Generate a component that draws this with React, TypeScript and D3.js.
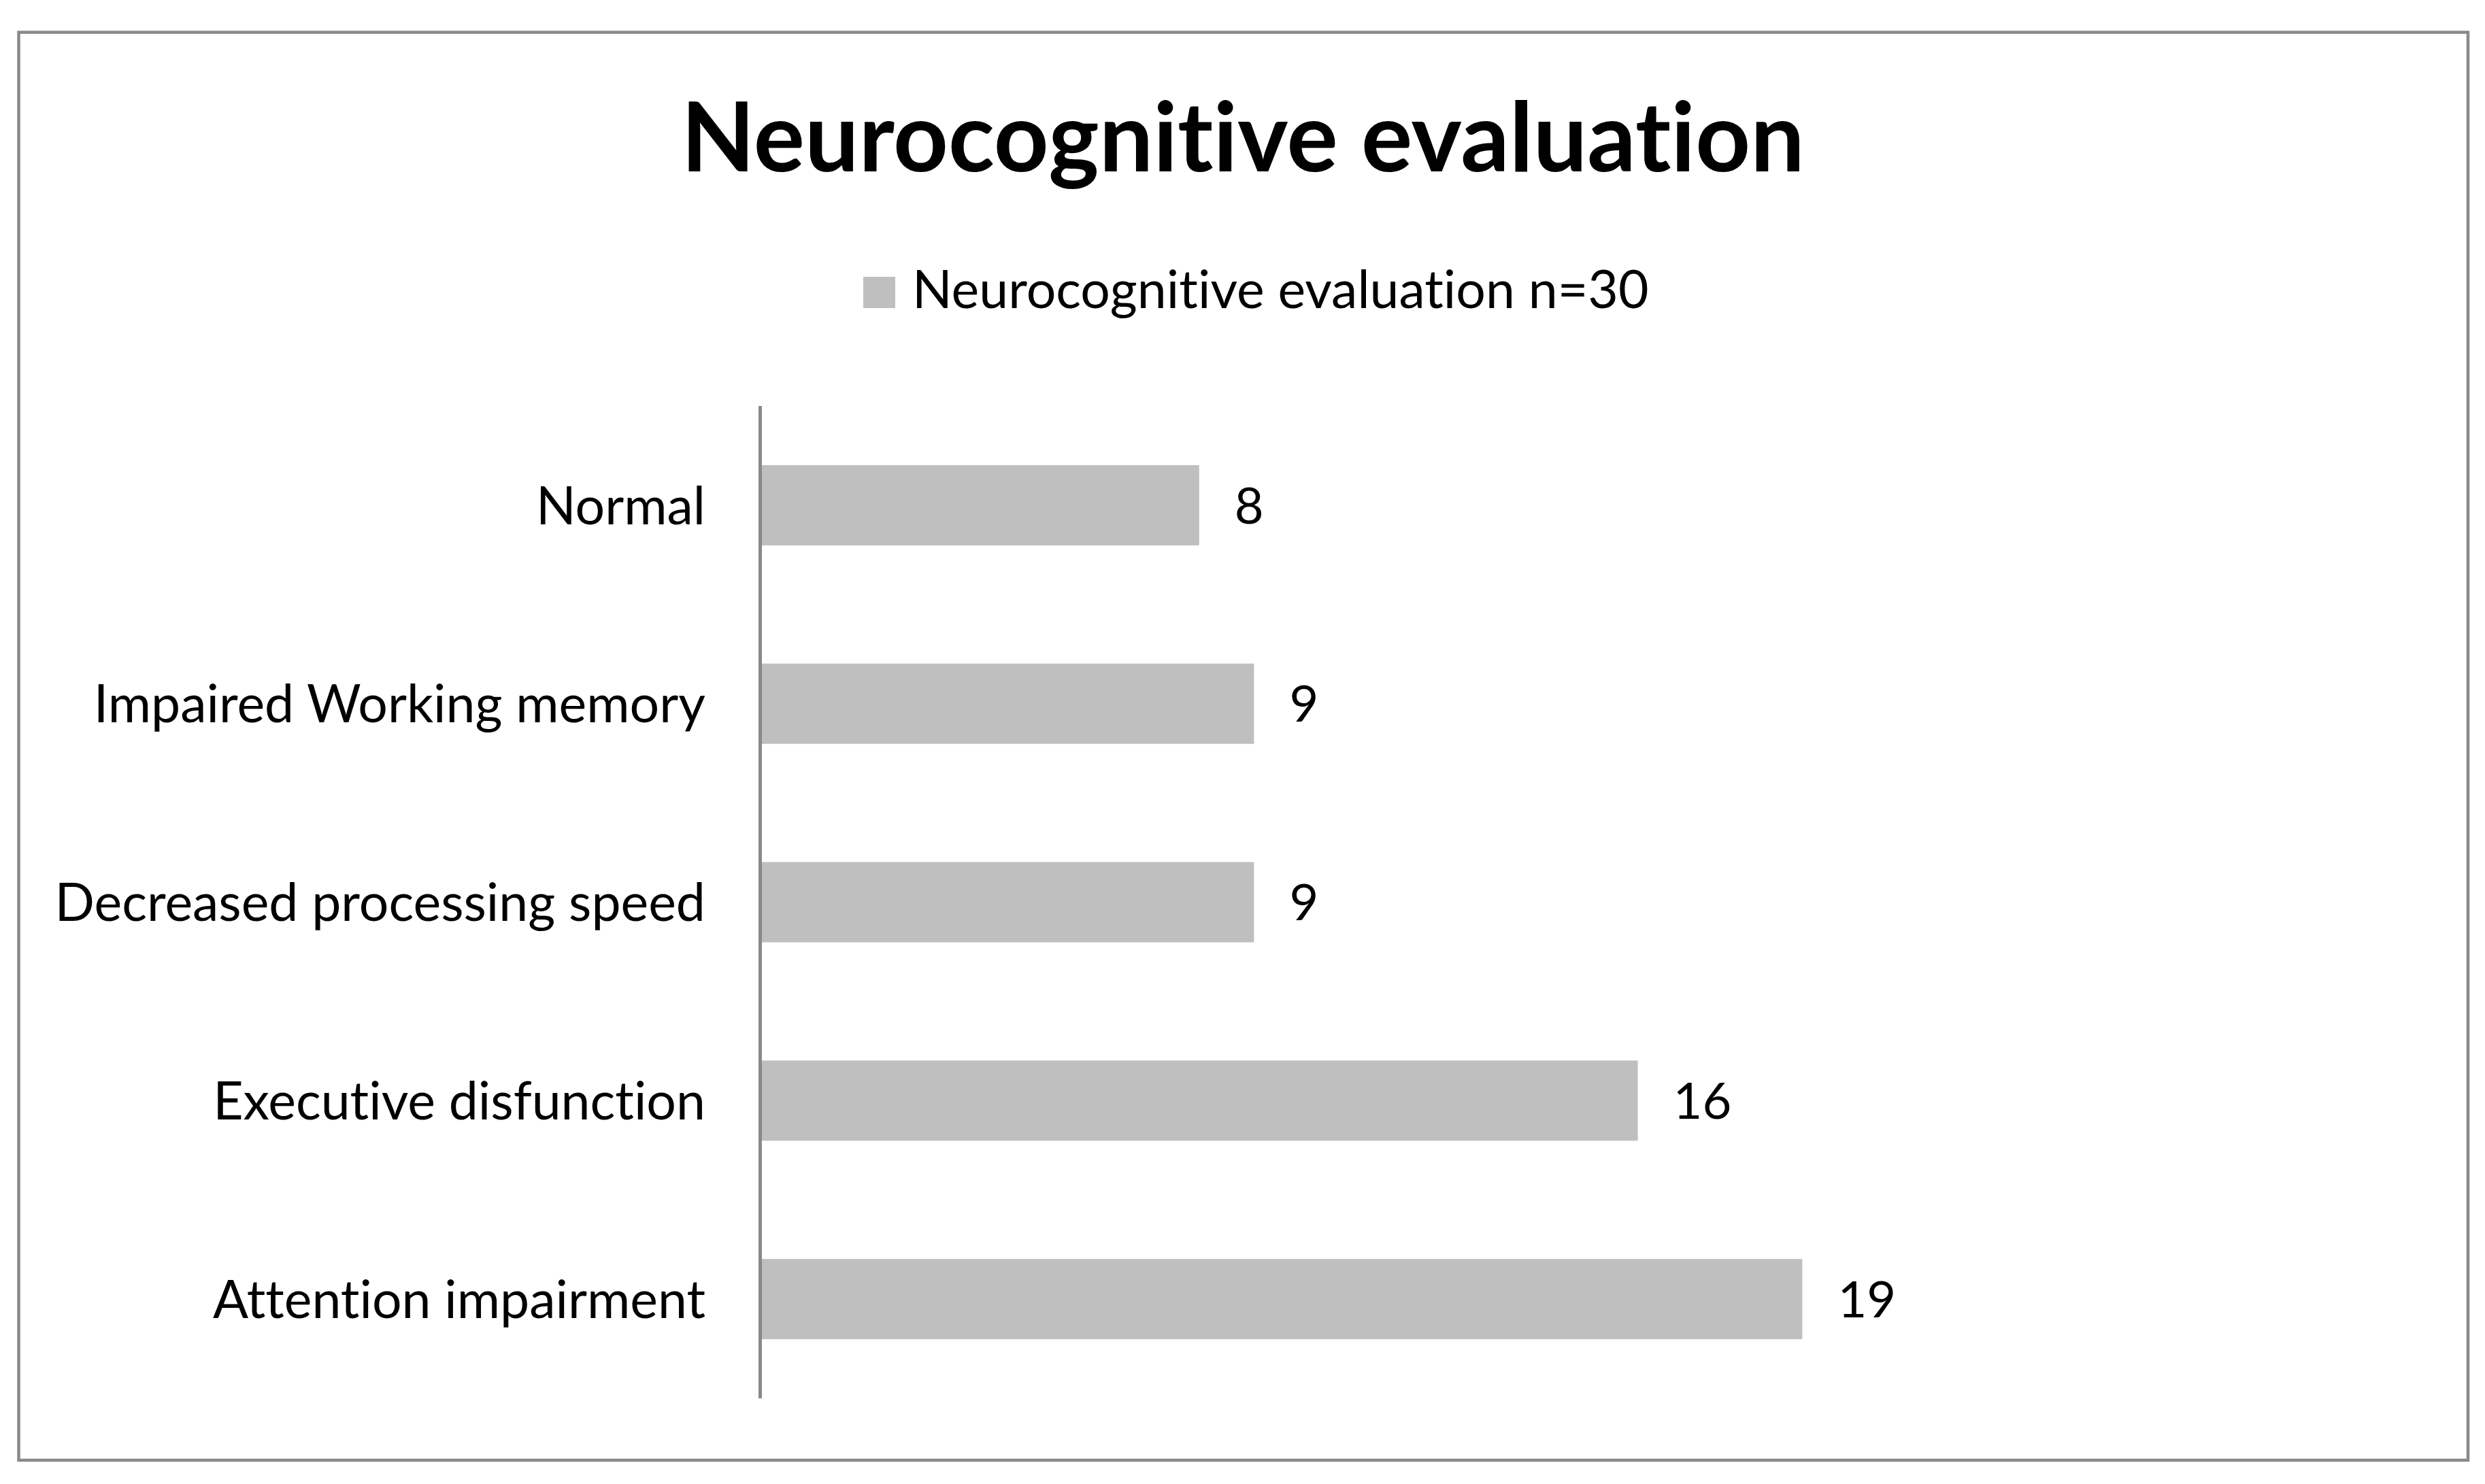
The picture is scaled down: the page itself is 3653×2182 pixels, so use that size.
import React from "react";
import * as d3 from "d3";

const categories = [
  "Normal",
  "Impaired Working memory",
  "Decreased processing speed",
  "Executive disfunction",
  "Attention impairment",
];
const values = [8, 9, 9, 16, 19];
const title = "Neurocognitive evaluation";
const seriesName = "Neurocognitive evaluation n=30";
const xDomainMax = 20;

const W = 3653;
const H = 2182;
const FONT = "Lato, 'Open Sans', sans-serif";
const noLig = { fontVariantLigatures: "none" as const, fontFeatureSettings: "'liga' 0, 'clig' 0" };

export default function App() {
  const x = d3.scaleLinear().domain([0, xDomainMax]).range([1118, 2730]);
  const y = d3
    .scaleBand<string>()
    .domain(categories)
    .range([597, 2056])
    .paddingInner(0.5956)
    .paddingOuter(0.5956 / 2);

  return (
    <svg
      width={W}
      height={H}
      viewBox={`0 0 ${W} ${H}`}
      style={{ position: "absolute", left: 0, top: 0, background: "#fff" }}
    >
      <rect x={0} y={0} width={W} height={H} fill="#fff" />
      <rect
        x={27.5}
        y={47.5}
        width={3628 - 27.5}
        height={2147 - 47.5}
        fill="#fff"
        stroke="#898989"
        strokeWidth={4.5}
      />
      <text
        x={1827}
        y={252}
        textAnchor="middle"
        fontFamily={FONT}
        fontWeight={700}
        fontSize={141}
        fill="#000"
        style={noLig}
      >
        {title}
      </text>
      <g>
        <rect x={1269} y={407} width={47} height={46} fill="#BFBFBF" />
        <text x={1341} y={453} fontFamily={FONT} fontSize={77} fill="#000" style={noLig}>
          {seriesName}
        </text>
      </g>
      <g>
        {categories.map((c, i) => (
          <g key={c}>
            <rect
              x={x(0)}
              y={y(c)}
              width={x(values[i]) - x(0)}
              height={y.bandwidth()}
              fill="#BFBFBF"
            />
            <text
              x={x(values[i]) + 52}
              y={(y(c) as number) + y.bandwidth() / 2}
              dy="0.36em"
              fontFamily={FONT}
              fontSize={74}
              fill="#000"
            >
              {values[i]}
            </text>
            <text
              x={1037}
              y={(y(c) as number) + y.bandwidth() / 2}
              dy="0.36em"
              textAnchor="end"
              fontFamily={FONT}
              fontSize={77}
              fill="#000"
              style={noLig}
            >
              {c}
            </text>
          </g>
        ))}
      </g>
      <line
        x1={x(0) - 0.5}
        x2={x(0) - 0.5}
        y1={597}
        y2={2056}
        stroke="#898989"
        strokeWidth={5}
      />
    </svg>
  );
}
